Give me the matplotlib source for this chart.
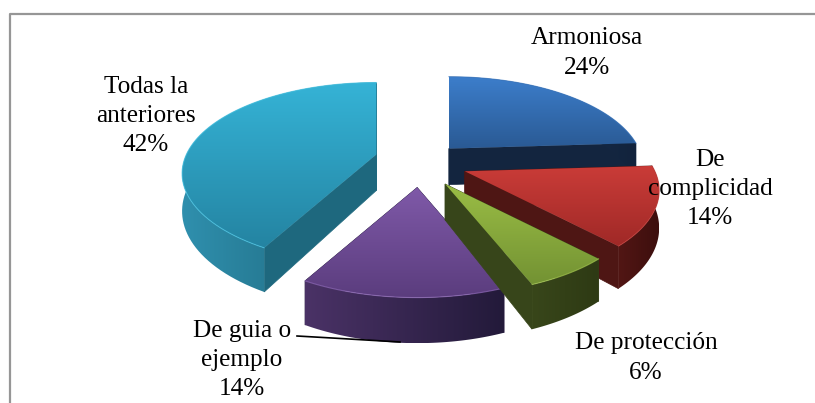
import numpy as np
import matplotlib
matplotlib.use("Agg")
from matplotlib import pyplot as plt
from matplotlib.colors import LinearSegmentedColormap
from matplotlib.patches import Polygon

categories = ["Armoniosa", "De\ncomplicidad", "De protección", "De guia o\nejemplo", "Todas la\nanteriores"]
values = [24, 14, 6, 14, 42]
# draw order is not the same as data order, back slices go first
draw_order = [4, 0, 1, 3, 2]

top_light = ["#3c7dca", "#ca3c38", "#9abd45", "#7f59a8", "#35b3d6"]
top_dark = ["#2a5a94", "#a02927", "#739233", "#5b3d7e", "#2484a2"]
rim_left = ["#1d3a60", "#521614", "#38461a", "#4a3266", "#2f8fad"]
rim_right = ["#12233c", "#3d0f0e", "#2e3a14", "#231a3a", "#1c6276"]
face = ["#13253f", "#4e1614", "#37451a", "#2e2148", "#1e687e"]
edge = ["#3a78c2", "#c23a36", "#a2c44e", "#8f6ab8", "#45c2e2"]

label_x = [587, 710, 646, 242, 146]
label_y = [53, 189, 358, 360, 116]
# small nudges per slice, the perspective model is not exact
nudge_x = [-2, 3, 1, 0, 0]
nudge_y = [0, -2, 0, 0, -5]

W, H = 815, 403
cx, cy = 420, 165
R, Ry = 190, 87
E, Ey = 45, 22.5
k = 0.21
depth = 36


def project(apex, theta):
    s = 1 / (1 + k * np.cos(theta))
    return apex[0] + R * np.sin(theta) * s, apex[1] - Ry * np.cos(theta) * s, depth * s


def gradient(ax, poly, c0, c1, z, vertical=True):
    pts = np.array(poly)
    cmap = LinearSegmentedColormap.from_list("g", [c0, c1])
    g = np.linspace(0, 1, 64)
    g = g.reshape(-1, 1) if vertical else g.reshape(1, -1)
    im = ax.imshow(g, cmap=cmap, aspect="auto", interpolation="bilinear", zorder=z,
                   extent=(pts[:, 0].min(), pts[:, 0].max(), pts[:, 1].max(), pts[:, 1].min()))
    p = Polygon(pts, closed=True, fc="none", ec="none", zorder=z)
    ax.add_patch(p)
    im.set_clip_path(p)


fig = plt.figure(figsize=(8.15, 4.03), dpi=100)
ax = fig.add_axes([0, 0, 1, 1])

total = sum(values)
ends = np.cumsum(values) / total * 2 * np.pi
starts = np.concatenate([[0], ends[:-1]])

z = 1
for i in draw_order:
    a, b = starts[i], ends[i]
    mid = (a + b) / 2
    apex = (cx + E * np.sin(mid) + nudge_x[i], cy - Ey * np.cos(mid) + nudge_y[i])
    t = np.linspace(a, b, 80)
    xs, ys, hs = project(apex, t)
    s_x, s_y, s_h = project(apex, a)
    e_x, e_y, e_h = project(apex, b)
    # radial side faces
    for (fx, fy, fh) in [(s_x, s_y, s_h), (e_x, e_y, e_h)]:
        ax.add_patch(Polygon([apex, (fx, fy), (fx, fy + fh), (apex[0], apex[1] + depth)],
                             closed=True, fc=face[i], ec=face[i], lw=0.5, zorder=z))
    # outer rim
    rim = list(zip(xs, ys)) + list(zip(xs[::-1], (ys + hs)[::-1]))
    gradient(ax, rim, rim_left[i], rim_right[i], z + 1, vertical=False)
    # top
    top = [apex] + list(zip(xs, ys))
    gradient(ax, top, top_light[i], top_dark[i], z + 2)
    ax.plot(xs, ys, color=edge[i], lw=0.8, alpha=0.7, solid_capstyle="round", zorder=z + 3)
    z += 4

for i in range(len(values)):
    ax.text(label_x[i], label_y[i], categories[i] + "\n" + str(values[i]) + "%",
            family="Liberation Serif", fontsize=18.2, ha="center", va="center",
            linespacing=1.42, color="black", zorder=z + 1)

ax.plot([297, 332, 400], [336, 338, 342], color="black", lw=1.2, zorder=z)

# only the top and left of the frame show
ax.plot([9.5, 9.5, W], [H, 13.5, 13.5], color="#969696", lw=1.6, zorder=z)

ax.set_xlim(0, W)
ax.set_ylim(H, 0)
ax.axis("off")
fig.savefig("out.png", dpi=100, facecolor="white")
